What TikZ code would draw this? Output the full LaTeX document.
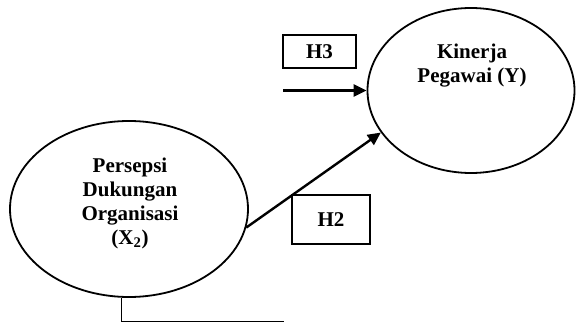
\documentclass[tikz,border=0pt]{standalone}
\usepackage{fontspec}
\setmainfont{Liberation Serif}
\usetikzlibrary{shapes.geometric,arrows.meta}
\tikzset{
  construct/.style={ellipse, draw=black, line width=1.8pt, inner sep=0pt},
  conlabel/.style={font=\bfseries\fontsize{21}{24}\selectfont, align=center, inner sep=0pt},
  hypbox/.style={draw=black, line width=1.5pt, font=\bfseries\fontsize{21}{24}\selectfont, inner sep=0pt},
  effect/.style={-{Triangle[length=13pt,width=12pt]}, line width=2.4pt},
  link/.style={line width=1.2pt},
}

\begin{document}
\begin{tikzpicture}[x=1pt, y=-1pt]
  \useasboundingbox (0,0) rectangle (576,323);
  % latent constructs
  \node[construct, minimum width=238pt, minimum height=176pt] (x2) at (129,209) {};
  \node[construct, minimum width=207pt, minimum height=165pt] (y) at (471,90.5) {};
  \node[conlabel] (x2txt) at (130,203) {Persepsi\\Dukungan\\Organisasi\\(X\textsubscript{2})};
  \node[conlabel] (ytxt) at (472,65.5) {Kinerja\\Pegawai (Y)};
  % hypothesis boxes
  \node[hypbox, minimum width=73pt, minimum height=33pt] (h3) at (319.5,51.5) {H3};
  \node[hypbox, minimum width=78pt, minimum height=49pt] (h2) at (331,219.5) {H2};
  % paths between constructs
  \coordinate (h3start) at (283,90.5);
  \draw[effect] (h3start) -- (y.west);
  \draw[effect] (x2.-9) -- (y.205);
  \coordinate (lineend) at (284,321.4);
  \draw[link] (x2.-95) |- (lineend);
\end{tikzpicture}
\end{document}
